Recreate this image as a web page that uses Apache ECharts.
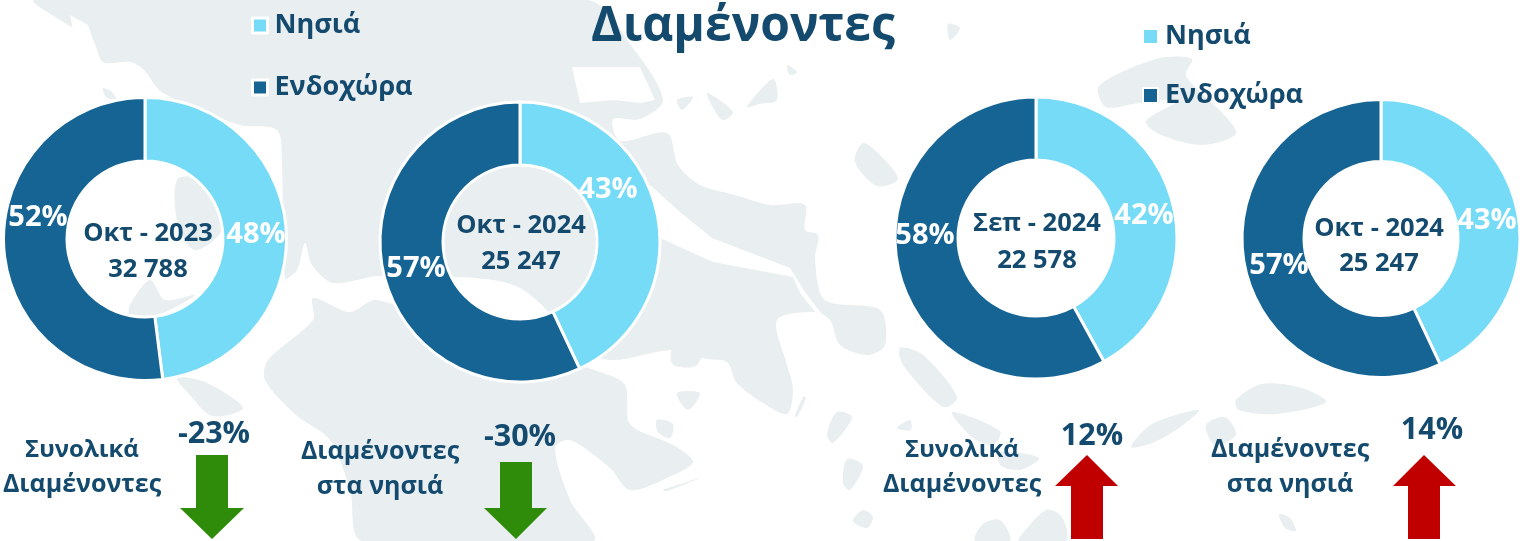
<!DOCTYPE html>
<html><head><meta charset="utf-8">
<style>html,body{margin:0;padding:0;background:#fff}#c{width:1529px;height:541px}</style>
<script src="https://cdn.jsdelivr.net/npm/echarts@6/dist/echarts.min.js"></script>
</head><body><div id="c"></div>
<script>
const categories = ['Νησιά', 'Ενδοχώρα'];
const periods = ['Οκτ - 2023', 'Οκτ - 2024', 'Σεπ - 2024', 'Οκτ - 2024'];
const totals = ['32 788', '25 247', '22 578', '25 247'];
const islandShare = [48, 43, 42, 43];
const inlandShare = [52, 57, 58, 57];
const changeLabels = ['-23%', '-30%', '12%', '14%'];
const changeCaptions = [['Συνολικά', 'Διαμένοντες'], ['Διαμένοντες', 'στα νησιά'], ['Συνολικά', 'Διαμένοντες'], ['Διαμένοντες', 'στα νησιά']];
const titleText = 'Διαμένοντες';

const FONT = '"Open Sans","Noto Sans",sans-serif';
const NAVY = '#134A6E', DARK = '#156494', LIGHT = '#76DBF7', LAND = '#E9EEF0';
const GREEN = '#2F8C0A', RED = '#C00000';

// layout only
const donuts = [
  {c:[145,239], r:141.5, rIn:78, lab:[[256,235],[38,218]], mid:[148,234,270]},
  {c:[520,242], r:140, rIn:77, lab:[[608,190],[416,269]], mid:[521,226,262]},
  {c:[1036,238], r:141, rIn:78, lab:[[1144,216],[925,236]], mid:[1037,224,261]},
  {c:[1381,238.5], r:139, rIn:77, lab:[[1487,221],[1279,266]], mid:[1379,229,264]}
];
const captionPos = [
  {pct:[214,434], cap:[82,450,485]},
  {pct:[520,437], cap:[380,452,487]},
  {pct:[1092,436], cap:[962,450,485]},
  {pct:[1432,430], cap:[1290,450,485]}
];
const arrowShapes = [
  {col:GREEN, pts:[[196,455],[228,455],[228,508],[244,508],[212,539],[180,508],[196,508]]},
  {col:GREEN, pts:[[500,462],[532,462],[532,508],[547,508],[516,539],[484,508],[500,508]]},
  {col:RED, pts:[[1087,455],[1118,486],[1103,486],[1103,539],[1071,539],[1071,486],[1055,486]]},
  {col:RED, pts:[[1424,455],[1456,486],[1440,486],[1440,539],[1408,539],[1408,486],[1393,486]]}
];
const landShapes = [
 [[35,0],[587,0],[633,48],[663,100],[640,119],[613,119],[620,141],[667,133],[678,165],[700,185],[735,195],[770,205],[805,205],[805,230],[818,235],[815,260],[825,300],[880,310],[885,345],[868,355],[840,345],[830,320],[815,312],[777,320],[787,365],[793,390],[787,414],[763,403],[737,383],[727,362],[707,359],[673,350],[600,358],[520,288],[447,276],[377,276],[333,283],[312,265],[305,243],[297,270],[285,278],[282,165],[277,130],[240,125],[163,93],[143,69],[130,62],[103,62],[93,41],[60,20]],
 [[313,298],[350,312],[377,300],[600,372],[625,385],[630,424],[673,445],[693,462],[667,478],[630,490],[610,468],[570,440],[555,448],[570,500],[593,541],[362,541],[350,490],[330,440],[296,415],[265,380],[268,360],[313,320]],
 [[177,180],[200,178],[215,195],[222,230],[195,250],[178,225]],
 [[130,305],[150,280],[165,300],[195,295],[170,310],[155,315],[130,315]],
 [[177,378],[205,382],[243,408],[212,416],[190,395]],
 [[103,88],[112,92],[116,99],[106,97]],
 [[677,100],[693,97],[682,110]],[[707,93],[733,112],[722,120]],[[747,107],[773,79],[777,100],[760,104]],
 [[787,65],[797,72],[790,75]],[[948,24],[960,28],[950,40]],
 [[863,143],[880,155],[898,179],[877,186],[855,162]],
 [[900,348],[923,355],[957,397],[943,407],[903,365]],
 [[952,412],[1000,431],[993,445],[973,438]],[[897,428],[910,420],[911,430]],
 [[837,412],[852,417],[833,443],[827,434]],[[803,397],[806,398],[797,417],[795,416]],
 [[847,459],[863,466],[850,490],[843,483]],[[863,510],[873,517],[867,528],[853,521]],
 [[983,524],[1000,520],[1010,541],[975,541]],
 [[677,393],[700,393],[688,410]],[[673,348],[703,338],[697,365],[673,365]],
 [[657,420],[673,424],[670,438],[658,432]],[[663,490],[700,478],[667,491]],
 [[1099,86],[1156,59],[1192,59],[1186,76],[1226,117],[1236,134],[1202,145],[1159,134],[1146,121],[1179,100],[1139,103],[1106,107]],
 [[1236,400],[1262,384],[1302,388],[1326,402],[1276,414],[1239,410]],
 [[1131,447],[1152,424],[1199,410],[1179,428],[1152,443]],
 [[1206,425],[1225,417],[1236,435],[1215,445]],
 [[1019,538],[1046,510],[1062,517],[1066,541],[1019,541]],
 [[1000,452],[1039,458],[1020,470],[1000,465]],
 [[1279,514],[1290,518],[1296,531],[1285,528]]
];
const waterShapes = [
 [[70,15],[88,25],[95,45],[75,40]],
 [[572,67],[640,67],[655,100],[640,103],[613,100],[580,103]],
 [[650,185],[680,212],[712,238],[790,268],[805,292],[822,314],[815,312],[800,293],[793,277],[713,262],[660,238]]
];

const series = donuts.map((d, i) => ({
  type: 'pie',
  center: d.c,
  radius: [d.rIn, d.r],
  startAngle: 90,
  clockwise: true,
  z: 3,
  silent: true,
  avoidLabelOverlap: false,
  itemStyle: {borderColor: '#fff', borderWidth: 3},
  label: {show: true, position: 'inside', formatter: '{c}%', color: '#fff', fontFamily: FONT, fontWeight: 700, fontSize: 29},
  labelLine: {show: false},
  labelLayout: p => ({x: d.lab[p.dataIndex][0], y: d.lab[p.dataIndex][1], align: 'center', verticalAlign: 'middle'}),
  data: [
    {name: categories[0], value: islandShare[i], itemStyle: {color: LIGHT}},
    {name: categories[1], value: inlandShare[i], itemStyle: {color: DARK}}
  ]
}));

const txt = (x, y, text, size, color) => ({
  type: 'text', x, y, z: 10, silent: true,
  style: {text, fill: color || NAVY, font: `700 ${size}px ${FONT}`, align: 'center', verticalAlign: 'middle'}
});
const graphics = [];
landShapes.forEach(p => graphics.push({type:'polygon', z:-2, silent:true, shape:{points:p, smooth:0.3}, style:{fill:LAND}}));
waterShapes.forEach(p => graphics.push({type:'polygon', z:-1, silent:true, shape:{points:p}, style:{fill:'#fff'}}));
graphics.push(txt(743, 27, titleText, 48));
donuts.forEach((d, i) => {
  graphics.push(txt(d.mid[0], d.mid[1], periods[i], 25.5));
  graphics.push(txt(d.mid[0], d.mid[2], totals[i], 25.5));
});
captionPos.forEach((c, i) => {
  graphics.push(txt(c.pct[0], c.pct[1], changeLabels[i], 30.5));
  graphics.push(txt(c.cap[0], c.cap[1], changeCaptions[i][0], changeCaptions[i][0] === 'Συνολικά' ? 24 : 25));
  graphics.push(txt(c.cap[0], c.cap[2], changeCaptions[i][1], 25));
});
arrowShapes.forEach(a => graphics.push({type:'polygon', z:9, silent:true, shape:{points:a.pts}, style:{fill:a.col}}));

const legendBase = {
  orient: 'vertical', icon: 'rect', itemWidth: 15, itemHeight: 15, selectedMode: false, z: 6,
  textStyle: {color: NAVY, fontFamily: FONT, fontWeight: 700, fontSize: 27, padding: [0,0,0,2]}
};
const halo = {borderColor: '#fff', borderWidth: 3};
const option = {
  animation: false,
  backgroundColor: '#fff',
  legend: [
    Object.assign({}, legendBase, {left: 246, top: 7, itemGap: 35, itemStyle: halo, data: categories}),
    Object.assign({}, legendBase, {left: 1137, top: 18, itemGap: 32, data: categories})
  ],
  graphic: {elements: graphics},
  series
};
const chart = echarts.init(document.getElementById('c'), null, {renderer: 'canvas'});
chart.setOption(option);
</script></body></html>
